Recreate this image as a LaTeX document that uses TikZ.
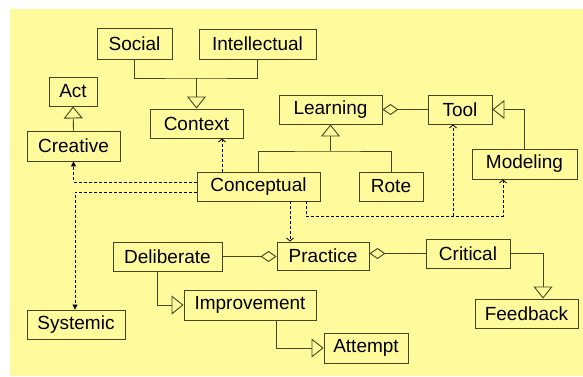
\documentclass[tikz,border=0pt]{standalone}
\usepackage{fontspec}
\setmainfont{Liberation Sans}
\usetikzlibrary{arrows.meta}
\definecolor{bgyellow}{RGB}{255,250,155}
\definecolor{boxline}{RGB}{70,70,30}

\begin{document}
\begin{tikzpicture}[x=1pt, y=-1pt,
    cls/.style={draw=boxline, line width=0.9pt, inner sep=0pt, font=\fontsize{19}{22}\selectfont},
    gen/.style={draw=boxline, line width=0.9pt, -{Triangle[open, length=12pt, width=19pt]}},
    agg/.style={draw=boxline, line width=0.9pt, {Diamond[open, length=16pt, width=11pt]}-},
    depline/.style={line width=0.8pt, dash pattern=on 3pt off 2pt, -{Straight Barb[length=3pt, width=7pt]}},
    depfill/.style={line width=0.8pt, dash pattern=on 3pt off 2pt, -{Triangle[length=5pt, width=5pt]}}]
      \useasboundingbox (0, 0) rectangle (583, 376);
      \fill[bgyellow] (10, 9) rectangle (583, 376);

      \node[cls, minimum width=75, minimum height=31] (social) at (134.5, 43.5) {Social};
      \node[cls, minimum width=117, minimum height=30] (intellectual) at (257.5, 44) {Intellectual};
      \node[cls, minimum width=48, minimum height=29] (act) at (73, 91.5) {Act};
      \node[cls, minimum width=93, minimum height=30] (creative) at (73.5, 146) {Creative};
      \node[cls, minimum width=93, minimum height=29] (context) at (196.5, 123.5) {Context};
      \node[cls, minimum width=103, minimum height=29] (learning) at (330.5, 109.5) {Learning};
      \node[cls, minimum width=64, minimum height=29] (tool) at (460, 109.5) {Tool};
      \node[cls, minimum width=105, minimum height=30] (modeling) at (524.5, 164) {Modeling};
      \node[cls, minimum width=123, minimum height=29] (conceptual) at (258.5, 186.5) {Conceptual};
      \node[cls, minimum width=64, minimum height=29] (rote) at (391, 186.5) {Rote};
      \node[cls, minimum width=92, minimum height=28] (practice) at (323, 256) {Practice};
      \node[cls, minimum width=109, minimum height=29] (deliberate) at (167.5, 256.5) {Deliberate};
      \node[cls, minimum width=84, minimum height=29] (critical) at (468, 253.5) {Critical};
      \node[cls, minimum width=103, minimum height=29] (feedback) at (526.5, 313.5) {Feedback};
      \node[cls, minimum width=132, minimum height=30] (improvement) at (250, 305) {Improvement};
      \node[cls, minimum width=84, minimum height=30] (attempt) at (366, 348) {Attempt};
      \node[cls, minimum width=98, minimum height=29] (systemic) at (76, 324.5) {Systemic};

      \coordinate (ctxjoin) at (196.5, 78);
      \coordinate (lrnjoin) at (330.5, 151);
      \coordinate (busL) at (453, 216);
      \coordinate (busR) at (503, 216);

      \draw[draw=boxline, line width=0.9pt] (social.south) |- (ctxjoin) -| (intellectual.south);
      \draw[gen] (ctxjoin) -- (context.north);
      \draw[gen] (creative.north) -- (act.south);
      \draw[draw=boxline, line width=0.9pt] (conceptual.north) |- (lrnjoin) -| (rote.north);
      \draw[gen] (lrnjoin) -- (learning.south);
      \draw[agg] (learning.east) -- (tool.west);
      \draw[gen] (modeling.north) |- (tool.east);

      \draw[depline] (conceptual.north -| 222,0) -- (context.south -| 222,0);
      \draw[depfill] (conceptual.west |- 0,182) -| (creative.south);
      \draw[depfill] (conceptual.west |- 0,192) -| (systemic.north -| 75,0);
      \draw[depline] (conceptual.south -| 290,0) -- (practice.north -| 290,0);
      \draw[depline] (conceptual.south -| 306,0) |- (busR) -- (modeling.south -| busR);
      \draw[depline] (busL) -- (tool.south -| busL);

      \draw[agg] (practice.west |- deliberate.east) -- (deliberate.east);
      \draw[agg] (practice.east |- critical.west) -- (critical.west);
      \draw[gen] (critical.east) -| (feedback.north -| 543,0);
      \draw[gen] (deliberate.south -| 157,0) |- (improvement.west);
      \draw[gen] (improvement.south -| 276,0) |- (attempt.west);
\end{tikzpicture}
\end{document}
